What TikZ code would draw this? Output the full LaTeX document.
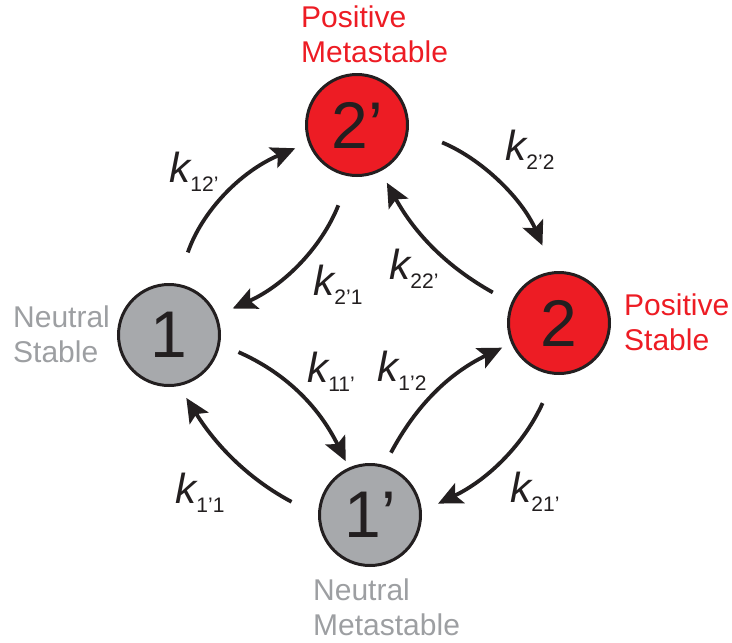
\documentclass[tikz,border=0pt]{standalone}
\usepackage{fontspec}
\setmainfont{Liberation Sans}
\usetikzlibrary{arrows.meta}
\definecolor{posred}{HTML}{ED1C24}
\definecolor{neutgray}{HTML}{A7A9AC}
\definecolor{labgray}{HTML}{9D9FA2}
\definecolor{inkblack}{HTML}{231F20}
\newcommand{\krate}[1]{{\fontsize{42}{42}\selectfont\itshape k}\raisebox{-9pt}{\fontsize{21}{21}\selectfont#1}}

\begin{document}
\begin{tikzpicture}[x=1pt, y=1pt, >={Stealth[length=24pt,width=22pt,inset=5pt]},
  state/.style={circle, draw=inkblack, line width=3pt, minimum size=101pt, inner sep=0pt,
    text=inkblack, font=\fontsize{66}{66}\selectfont},
  rate/.style={->, draw=inkblack, line width=3.8pt},
  klabel/.style={inner sep=0pt, text=inkblack},
  tag/.style={align=left, anchor=west, inner sep=0pt, font=\fontsize{30}{35}\selectfont}]
  \useasboundingbox (0,0) rectangle (732,-643);

  % four states
  \node[state, fill=neutgray] (n1) at (169,-335) {1};
  \node[state, fill=posred] (n2p) at (357,-125) {2’};
  \node[state, fill=posred] (n2) at (559,-323) {2};
  \node[state, fill=neutgray] (n1p) at (370,-515) {1’};

  \node[tag, text=posred] at (301,-34) {Positive\\Metastable};
  \node[tag, text=labgray] at (13,-334) {Neutral\\Stable};
  \node[tag, text=posred] at (624,-322) {Positive\\Stable};
  \node[tag, text=labgray] at (313,-607) {Neutral\\Metastable};

  % transitions
  \draw[rate, shorten <=33pt, shorten >=14pt] (n1.81) to[bend left=24] (n2p.200);
  \draw[rate, shorten <=31pt, shorten >=17pt] (n2p.262) to[bend left=22] (n1.22);
  \draw[rate, shorten <=21pt, shorten >=13pt] (n2.157) to[bend left=16] (n2p.297);
  \draw[rate, shorten <=36pt, shorten >=28pt] (n2p.-4) to[bend left=22] (n2.96);
  \draw[rate, shorten <=20pt, shorten >=7pt] (n1.-10) to[bend left=20] (n1p.114);
  \draw[rate, shorten <=14pt, shorten >=10pt] (n1p.74) to[bend left=18] (n2.203);
  \draw[rate, shorten <=31pt, shorten >=18pt] (n2.266) to[bend left=20] (n1p.4);
  \draw[rate, shorten <=30pt, shorten >=14pt] (n1p.181) to[bend left=15] (n1.281);

  \node[klabel] (k12p) at (194,-172) {\krate{12’}};
  \node[klabel] (k2p1) at (338,-285) {\krate{2’1}};
  \node[klabel] (k22p) at (414,-269) {\krate{22’}};
  \node[klabel] (k2p2) at (530,-150) {\krate{2’2}};
  \node[klabel] (k11p) at (331,-372) {\krate{11’}};
  \node[klabel] (k1p2) at (402,-371) {\krate{1’2}};
  \node[klabel] (k21p) at (535,-492) {\krate{21’}};
  \node[klabel] (k1p1) at (200,-493) {\krate{1’1}};
\end{tikzpicture}
\end{document}
